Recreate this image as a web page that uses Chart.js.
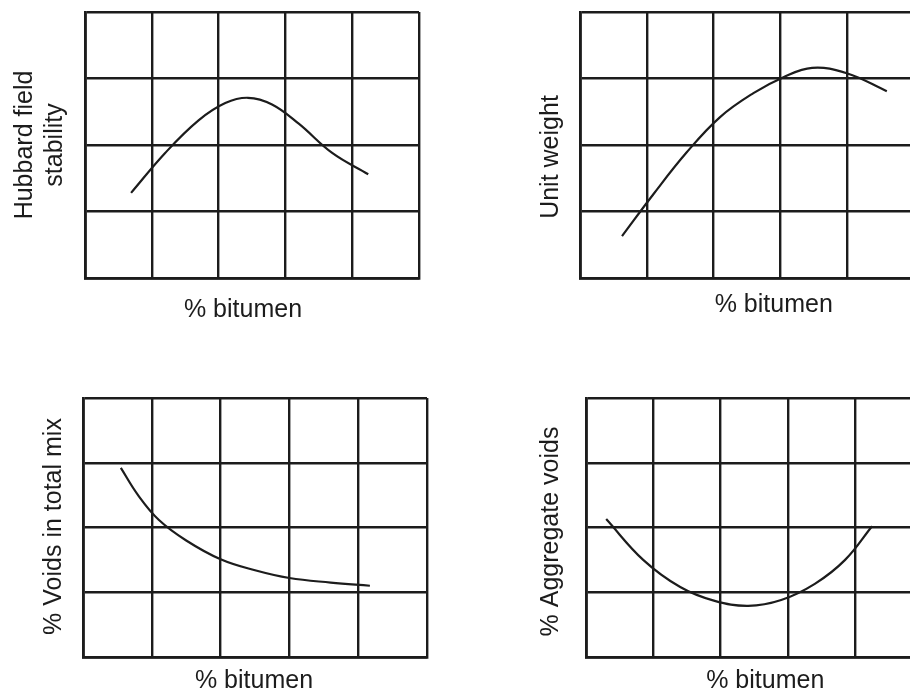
<!DOCTYPE html>
<html>
<head>
<meta charset="utf-8">
<title>Marshall test curves</title>
<script src="https://cdn.jsdelivr.net/npm/chart.js@4/dist/chart.umd.min.js"></script>
<style>
  html, body { margin: 0; padding: 0; background: #fff; overflow: hidden; }
  body { position: relative; width: 910px; height: 692px; }
  .panel { position: absolute; }
</style>
</head>
<body>
<div class="panel" style="left:0;top:0"><canvas id="c1" width="455" height="346"></canvas></div>
<div class="panel" style="left:455px;top:0"><canvas id="c2" width="470" height="346"></canvas></div>
<div class="panel" style="left:0;top:346px"><canvas id="c3" width="455" height="346"></canvas></div>
<div class="panel" style="left:455px;top:346px"><canvas id="c4" width="475" height="346"></canvas></div>
<script>
// values: x in grid columns (0-5), y in grid rows (0-4)
const hubbardX = [0.69, 1.2, 1.7, 2.1, 2.44, 2.8, 3.2, 3.7, 4.24];
const hubbardY = [1.28, 1.88, 2.37, 2.63, 2.71, 2.61, 2.32, 1.88, 1.56];

const unitWeightX = [0.63, 1.1, 1.6, 2.1, 2.6, 3.05, 3.48, 4.0, 4.6];
const unitWeightY = [0.63, 1.26, 1.89, 2.42, 2.78, 3.02, 3.16, 3.08, 2.81];

const voidsMixX = [0.55, 0.8, 1.1, 1.5, 2.0, 2.5, 3.0, 3.6, 4.17];
const voidsMixY = [2.92, 2.5, 2.12, 1.8, 1.51, 1.34, 1.22, 1.15, 1.10];

const aggVoidsX = [0.3, 0.85, 1.4, 1.9, 2.41, 2.9, 3.4, 3.85, 4.25];
const aggVoidsY = [2.13, 1.5, 1.08, 0.87, 0.79, 0.88, 1.13, 1.50, 2.02];

const xMax = 5; // grid columns
const yMax = 4; // grid rows
const xTitle = '% bitumen';

const ink = '#1c1c1c';

// draws the axis titles next to the plot frame
const axisLabels = {
  id: 'axisLabels',
  afterDraw(chart, args, opts) {
    const { ctx, chartArea: a } = chart;
    ctx.save();
    ctx.fillStyle = ink;
    ctx.font = '25px "Liberation Sans", Arial, sans-serif';
    ctx.textAlign = 'center';
    ctx.textBaseline = 'alphabetic';
    ctx.fillText(opts.x, (a.left + a.right) / 2 + opts.xShift, a.bottom + opts.xDrop);

    ctx.translate(a.left - opts.yGap, (a.top + a.bottom) / 2 + opts.yShift);
    ctx.rotate(-Math.PI / 2);
    const n = opts.y.length;
    opts.y.forEach((line, i) => {
      ctx.fillText(line, 0, -(n - 1 - i) * 30);
    });
    ctx.restore();
  }
};

const panels = [
  { id: 'c1', xs: hubbardX, ys: hubbardY, yTitle: ['Hubbard field', 'stability'],
    pad: { left: 85, top: 12, right: 36, bottom: 68 }, yGap: 23, yShift: 0, xShift: -9, xDrop: 39 },
  { id: 'c2', xs: unitWeightX, ys: unitWeightY, yTitle: ['Unit weight'],
    pad: { left: 125, top: 12, right: 11.5, bottom: 68 }, yGap: 22, yShift: 12, xShift: 27, xDrop: 34 },
  { id: 'c3', xs: voidsMixX, ys: voidsMixY, yTitle: ['% Voids in total mix'],
    pad: { left: 83, top: 52, right: 28, bottom: 35 }, yGap: 22, yShift: -1, xShift: -1, xDrop: 31 },
  { id: 'c4', xs: aggVoidsX, ys: aggVoidsY, yTitle: ['% Aggregate voids'],
    pad: { left: 131, top: 52, right: 7.5, bottom: 35 }, yGap: 28, yShift: 4, xShift: 11, xDrop: 31 }
];

const gridScale = (max) => ({
  type: 'linear',
  min: 0,
  max: max,
  ticks: { display: false, stepSize: 1 },
  grid: { color: ink, lineWidth: 2.4, drawTicks: false },
  border: { color: ink, width: 2.8 }
});

panels.forEach((p) => {
  new Chart(document.getElementById(p.id), {
    type: 'line',
    data: {
      datasets: [{
        data: p.xs.map((x, i) => ({ x: x, y: p.ys[i] })),
        borderColor: ink,
        borderWidth: 2.2,
        pointRadius: 0,
        fill: false,
        tension: 0.4
      }]
    },
    options: {
      responsive: false,
      animation: false,
      layout: { padding: p.pad },
      scales: { x: gridScale(xMax), y: gridScale(yMax) },
      plugins: {
        legend: { display: false },
        tooltip: { enabled: false },
        axisLabels: {
          x: xTitle, y: p.yTitle,
          yGap: p.yGap, yShift: p.yShift, xShift: p.xShift, xDrop: p.xDrop
        }
      }
    },
    plugins: [axisLabels]
  });
});
</script>
</body>
</html>
